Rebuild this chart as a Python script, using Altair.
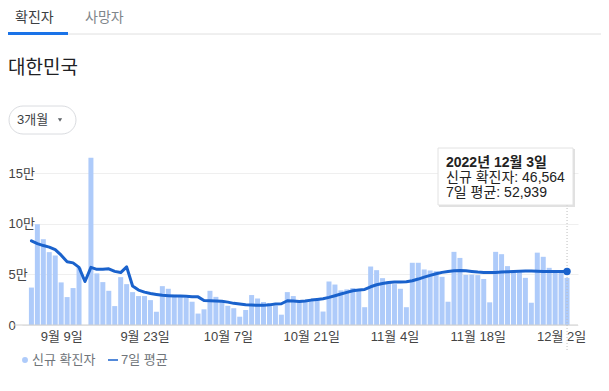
import altair as alt
import pandas as pd

FONT = "Liberation Sans, Noto Sans CJK KR, sans-serif"

# --- data ---
day_index = list(range(91))  # 0 = 2022-09-04 ... 90 = 2022-12-03
new_cases = [
    37000, 99600, 84800, 72000, 68700, 42100, 27600, 36500, 56500, None,
    165300, 51000, 42400, 33800, 18700, 47300, 40400, 32500, 28600, 28600,
    24600, 13100, 38400, 35800, 29900, 29600, 27000, 23000, 11300, 15500,
    33800, 27800, 23300, 19000, 16600, 8200, 14800, 29600, 26200, 22700,
    21400, 19000, 10200, 32500, 28600, 23000, 23000, 24300, 25000, 13300,
    43000, 40000, 34200, 35200, 36500, 35200, 17600, 57800, 54200, 46300,
    43000, 40400, 35800, 17600, 61500, 61500, 54900, 53900, 53200, 47600,
    23000, 72300, 66300, 49500, 49800, 49300, 45500, 22400, 72300, 70000,
    58200, 52000, 52000, 46600, 22000, 71500, 67400, 56500, 53500, 52400,
    46564,
]
avg7 = [
    83100, 80500, 78500, 77000, 74500, 69000, 62500, 61400, 57000, 43000,
    57000, 55000, 55000, 55500, 53000, 51800, 57500, 38500, 34500, 32500,
    31200, 30200, 29300, 29000, 28600, 28600, 28300, 27900, 27800, 24200,
    24000, 23800, 23500, 22600, 21400, 20700, 20000, 19700, 19400, 19400,
    19900, 20700, 21000, 24000, 23700, 23300, 23700, 24600, 25300, 26000,
    27300, 28900, 30600, 32200, 33800, 34500, 35200, 37800, 39800, 41100,
    42100, 42400, 42500, 42700, 43700, 45400, 47300, 49000, 50600, 52000,
    52900, 53600, 53800, 53600, 52900, 52300, 52000, 52000, 52000, 52300,
    52600, 52900, 53200, 53300, 53300, 53200, 53000, 53000, 52900, 52900,
    52939,
]
tick_days = [5, 19, 33, 47, 61, 75, 89]
tick_labels = ["9월 9일", "9월 23일", "10월 7일", "10월 21일", "11월 4일", "11월 18일", "12월 2일"]
y_ticks = [0, 50000, 100000, 150000]

df = pd.DataFrame({"k": day_index, "cases": new_cases, "avg": avg7})
one = pd.DataFrame({"a": [0]})

x_label_expr = " : ".join(
    [f"datum.value == {d} ? '{t}'" for d, t in zip(tick_days, tick_labels)]
) + " : ''"

x_scale = alt.Scale(domain=[-0.742, 91.0], nice=False, zero=False)
y_scale = alt.Scale(domain=[0, 170000], nice=False)

x_axis = alt.Axis(values=tick_days, labelExpr=x_label_expr, grid=False, domain=False,
                  ticks=False, labelFontSize=13, labelColor="#444444", labelFont=FONT,
                  labelPadding=5, title=None, labelFlush=False, labelOverlap=False,
                  labelBound=False)
y_axis = alt.Axis(values=y_ticks,
                  labelExpr="datum.value == 0 ? '0' : (datum.value / 10000) + '만'",
                  title=None, domain=False, ticks=False, gridColor="#efefef",
                  labelAlign="left", labelPadding=14, labelFontSize=13,
                  labelColor="#444444", labelFont=FONT, labelFlush=False,
                  labelOverlap=False, labelBound=False)

LINE_BLUE = "#1a62cc"

bars = alt.Chart(df).mark_bar(size=5, color="#aecbfa").encode(
    x=alt.X("k:Q", scale=x_scale, axis=x_axis),
    y=alt.Y("cases:Q", scale=y_scale, axis=y_axis),
)

zero_rule = alt.Chart(one).mark_rule(color="#cfcfcf", strokeWidth=1).encode(
    x=alt.value(-8), x2=alt.value(556), y=alt.value(172)
)

vline = alt.Chart(df).transform_filter("datum.k == 90").mark_rule(
    color="#bdbdbd", strokeDash=[1, 2], strokeWidth=1
).encode(
    x=alt.X("k:Q", scale=x_scale, axis=x_axis),
    y=alt.value(52), y2=alt.value(199),
)

line = alt.Chart(df).mark_line(color=LINE_BLUE, strokeWidth=3, strokeJoin="round",
                               strokeCap="round").encode(
    x=alt.X("k:Q", scale=x_scale, axis=x_axis),
    y=alt.Y("avg:Q", scale=y_scale, axis=y_axis),
)

dot = alt.Chart(df).transform_filter("datum.k == 90").mark_circle(
    size=55, color=LINE_BLUE, opacity=1
).encode(
    x=alt.X("k:Q", scale=x_scale, axis=x_axis),
    y=alt.Y("avg:Q", scale=y_scale, axis=y_axis),
)


def txt(s, x, y, size=13, color="#444444", weight="normal"):
    return alt.Chart(one).mark_text(
        text=s, align="left", baseline="middle", fontSize=size, color=color,
        fontWeight=weight, font=FONT
    ).encode(x=alt.value(x), y=alt.value(y))


def box(x, x2, y, y2, fill, stroke=None, radius=0, opacity=1.0):
    kw = dict(fill=fill, cornerRadius=radius, opacity=opacity)
    if stroke:
        kw["stroke"] = stroke
        kw["strokeWidth"] = 1
    return alt.Chart(one).mark_rect(**kw).encode(
        x=alt.value(x), x2=alt.value(x2), y=alt.value(y), y2=alt.value(y2)
    )


# tooltip
tip_shadow = box(417, 553, -4, 54, "#c8c8c8", opacity=0.55)
tip_box = box(416, 551, -5, 52, "#ffffff", stroke="#e2e2e2")
tip1 = txt("2022년 12월 3일", 424, 10, size=14, color="#222222", weight="bold")
tip2 = txt("신규 확진자: 46,564", 424, 25, size=14, color="#222222")
tip3 = txt("7일 평균: 52,939", 424, 40, size=14, color="#222222")

# header
tab_line = alt.Chart(one).mark_rule(color="#e0e0e0", strokeWidth=1).encode(
    x=alt.value(46), x2=alt.value(580), y=alt.value(-119)
)
tab_under = box(-14, 46, -121, -118, "#1a73e8")
tab1 = txt("확진자", -7, -135, size=14, color="#3c4043")
tab2 = txt("사망자", 63, -135, size=14, color="#80868b")
title = txt("대한민국", -14, -85, size=19, color="#202124")
pill = box(-13, 54, -47, -19, "#ffffff", stroke="#dadce0", radius=14)
pill_txt = txt("3개월", -5, -33, size=13, color="#3c4043")
pill_arrow = alt.Chart(one).mark_point(shape="triangle-down", filled=True, size=18,
                                       color="#5f6368", opacity=1).encode(
    x=alt.value(38), y=alt.value(-33)
)

# legend
leg_dot = alt.Chart(one).mark_circle(size=35, color="#aecbfa", opacity=1).encode(
    x=alt.value(3), y=alt.value(207)
)
leg_t1 = txt("신규 확진자", 10, 207, size=13, color="#70757a")
leg_dash = alt.Chart(one).mark_rule(color=LINE_BLUE, strokeWidth=1.5).encode(
    x=alt.value(86), x2=alt.value(96), y=alt.value(207)
)
leg_t2 = txt("7일 평균", 99, 207, size=13, color="#70757a")

chart = alt.layer(
    bars, zero_rule, vline, line, dot,
    tip_shadow, tip_box, tip1, tip2, tip3,
    tab_line, tab_under, tab1, tab2, title, pill, pill_txt, pill_arrow,
    leg_dot, leg_t1, leg_dash, leg_t2,
).properties(
    width=556, height=172,
    padding={"left": 14, "top": 145, "right": 23, "bottom": 58},
    autosize=alt.AutoSizeParams(type="none"),
    background="#ffffff",
).configure_view(stroke=None)

chart.save("out.html", embed_options={"renderer": "svg", "actions": False})
